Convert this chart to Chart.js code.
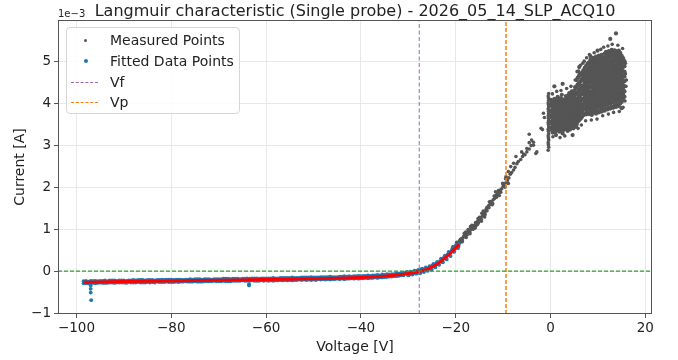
<!DOCTYPE html>
<html>
<head>
<meta charset="utf-8">
<script src="https://cdn.jsdelivr.net/npm/chart.js@4.4.1/dist/chart.umd.min.js"></script>
<style>
    html, body { margin: 0; padding: 0; background: #fff; }
    #wrap { position: relative; width: 678px; height: 360px; font-family: 'DejaVu Sans', sans-serif; color: #222; }
    #title { position: absolute; left: 0; top: 0; width: 710px; text-align: center; font-size: 16px; line-height: 21px; white-space: nowrap; }
    #offset { position: absolute; left: 58px; top: 8px; font-size: 10px; line-height: 12px; }
    #legend { position: absolute; left: 66px; top: 27px; width: 174px; height: 87px; box-sizing: border-box;
              border: 1px solid #d6d6d6; border-radius: 4px; background: rgba(255,255,255,0.85); font-size: 14px; }
    .row { position: absolute; left: 0; height: 20px; line-height: 20px; width: 100%; }
    .row span.txt { position: absolute; left: 43px; top: 0; }
    .dot { position: absolute; border-radius: 50%; }
    .dash { position: absolute; left: 4px; width: 27px; height: 0; }
</style>
</head>
<body>
<div id="wrap">
    <canvas id="chart" width="678" height="360"></canvas>
    <div id="title">Langmuir characteristic (Single probe) - 2026_05_14_SLP_ACQ10</div>
    <div id="offset">1e−3</div>
    <div id="legend">
        <div class="row" style="top:2px"><div class="dot" style="left:17px;top:8.5px;width:3px;height:3px;background:#555"></div><span class="txt">Measured Points</span></div>
        <div class="row" style="top:23px"><div class="dot" style="left:16.5px;top:8px;width:4px;height:4px;background:#1f77b4"></div><span class="txt">Fitted Data Points</span></div>
        <div class="row" style="top:44px"><div class="dash" style="top:10px;border-top:1.2px dashed #9467bd"></div><span class="txt">Vf</span></div>
        <div class="row" style="top:64px"><div class="dash" style="top:10px;border-top:1.5px dashed #ff7f0e"></div><span class="txt">Vp</span></div>
    </div>
</div>
<script>
// axis ranges and ticks (current in units of 1e-3 A)
const xMin = -103.9, xMax = 21.4;
const yMin = -1.02, yMax = 5.98;
const xTicks = [-100, -80, -60, -40, -20, 0, 20];
const yTicks = [-1, 0, 1, 2, 3, 4, 5];

// floating and plasma potential [V]
const Vf = -27.7;
const Vp = -9.4;

// exponential fit curve
const fitV = [-98.5, -95, -90, -85, -80, -75, -70, -65, -60, -55, -50, -45, -40, -38, -36, -34, -33, -32, -31, -30, -29, -28, -27.5, -27, -26, -25, -24, -23, -22, -21, -20, -19.3];
const fitI = [-0.263, -0.257, -0.248, -0.240, -0.232, -0.224, -0.216, -0.208, -0.200, -0.190, -0.180, -0.166, -0.148, -0.138, -0.125, -0.108, -0.098, -0.085, -0.071, -0.056, -0.038, -0.015, 0.0, 0.015, 0.05, 0.10, 0.165, 0.245, 0.34, 0.445, 0.56, 0.64];

// points used for the fit, first sweep
const fittedSweepA = [
    [-98.5,-0.24],[-98,-0.29],[-97.5,-0.25],[-97,-0.28],[-96.5,-0.23],[-96,-0.29],[-95.5,-0.24],[-95,-0.27],[-94.5,-0.23],[-94,-0.28],
    [-93.5,-0.24],[-93,-0.27],[-92.5,-0.22],[-92,-0.28],[-91.5,-0.23],[-91,-0.27],[-90.5,-0.22],[-90,-0.27],[-89.5,-0.23],[-89,-0.26],
    [-88.5,-0.22],[-88,-0.27],[-87.5,-0.22],[-87,-0.26],[-86.5,-0.21],[-86,-0.27],[-85.5,-0.22],[-85,-0.26],[-84.5,-0.21],[-84,-0.26],
    [-83.5,-0.22],[-83,-0.25],[-82.5,-0.21],[-82,-0.26],[-81.5,-0.21],[-81,-0.25],[-80.5,-0.20],[-80,-0.26],[-79.5,-0.21],[-79,-0.25],
    [-78.5,-0.20],[-78,-0.25],[-77.5,-0.21],[-77,-0.24],[-76.5,-0.20],[-76,-0.25],[-75.5,-0.20],[-75,-0.24],[-74.5,-0.19],[-74,-0.25],
    [-73.5,-0.20],[-73,-0.24],[-72.5,-0.19],[-72,-0.24],[-71.5,-0.20],[-71,-0.23],[-70.5,-0.19],[-70,-0.24],[-69.5,-0.19],[-69,-0.23],
    [-68.5,-0.18],[-68,-0.24],[-67.5,-0.19],[-67,-0.23],[-66.5,-0.18],[-66,-0.23],[-65.5,-0.19],[-65,-0.22],[-64.5,-0.18],[-64,-0.23],
    [-63.5,-0.18],[-63,-0.22],[-62.5,-0.17],[-62,-0.23],[-61.5,-0.18],[-61,-0.22],[-60.5,-0.17],[-60,-0.22],[-59.5,-0.17],[-59,-0.22],
    [-58.5,-0.16],[-58,-0.22],[-57.5,-0.17],[-57,-0.21],[-56.5,-0.16],[-56,-0.21],[-55.5,-0.16],[-55,-0.21],[-54.5,-0.15],[-54,-0.21],
    [-53.5,-0.16],[-53,-0.20],[-52.5,-0.15],[-52,-0.20],[-51.5,-0.15],[-51,-0.20],[-50.5,-0.14],[-50,-0.20],[-49.5,-0.15],[-49,-0.19],
    [-48.5,-0.14],[-48,-0.19],[-47.5,-0.14],[-47,-0.19],[-46.5,-0.13],[-46,-0.19],[-45.5,-0.14],[-45,-0.18],[-44.5,-0.13],[-44,-0.18],
    [-43.5,-0.12],[-43,-0.18],[-42.5,-0.12],[-42,-0.17],[-41.5,-0.12],[-41,-0.17],[-40.5,-0.11],[-40,-0.17],[-39.5,-0.11],[-39,-0.16],
    [-38.5,-0.10],[-38,-0.16],[-37.5,-0.10],[-37,-0.15],[-36.5,-0.09],[-36,-0.15],[-35.5,-0.08],[-35,-0.14],[-34.5,-0.07],[-34,-0.13],
    [-33.5,-0.07],[-33,-0.12],[-32.5,-0.05],[-32,-0.11],[-31.5,-0.04],[-31,-0.10],
    [-30.5,-0.03],[-30.1,-0.09],[-29.7,-0.03],[-29.3,-0.07],[-28.9,-0.01],[-28.5,-0.05],[-28.1,0.01],[-27.7,-0.04],
    [-27.3,0.04],[-26.9,0.00],[-26.5,0.06],[-26.1,0.02],[-25.7,0.08],[-25.3,0.06],[-24.9,0.14],[-24.5,0.11],
    [-24.1,0.19],[-23.7,0.16],[-23.3,0.24],[-22.9,0.22],[-22.5,0.32],[-22.1,0.31],[-21.7,0.40],[-21.3,0.39],
    [-20.9,0.48],[-20.5,0.47],[-20.1,0.58],[-19.7,0.56],[-19.3,0.65],
    [-97,-0.34],[-97,-0.42],[-97,-0.51],[-96.9,-0.69],[-63.6,-0.31],[-63.6,-0.34]
];

// points used for the fit, second sweep
const fittedSweepB = [
    [-98.5,-0.29],[-98,-0.23],[-97.5,-0.29],[-97,-0.23],[-96.5,-0.28],[-96,-0.23],[-95.5,-0.28],[-95,-0.23],[-94.5,-0.28],[-94,-0.22],
    [-93.5,-0.28],[-93,-0.22],[-92.5,-0.27],[-92,-0.22],[-91.5,-0.27],[-91,-0.22],[-90.5,-0.27],[-90,-0.22],[-89.5,-0.28],[-89,-0.22],
    [-88.5,-0.27],[-88,-0.21],[-87.5,-0.27],[-87,-0.21],[-86.5,-0.27],[-86,-0.21],[-85.5,-0.27],[-85,-0.21],[-84.5,-0.27],[-84,-0.21],
    [-83.5,-0.27],[-83,-0.21],[-82.5,-0.26],[-82,-0.20],[-81.5,-0.26],[-81,-0.20],[-80.5,-0.26],[-80,-0.20],[-79.5,-0.26],[-79,-0.20],
    [-78.5,-0.26],[-78,-0.20],[-77.5,-0.25],[-77,-0.20],[-76.5,-0.25],[-76,-0.19],[-75.5,-0.25],[-75,-0.19],[-74.5,-0.25],[-74,-0.19],
    [-73.5,-0.25],[-73,-0.19],[-72.5,-0.24],[-72,-0.19],[-71.5,-0.24],[-71,-0.19],[-70.5,-0.24],[-70,-0.19],[-69.5,-0.24],[-69,-0.18],
    [-68.5,-0.24],[-68,-0.18],[-67.5,-0.24],[-67,-0.18],[-66.5,-0.23],[-66,-0.18],[-65.5,-0.23],[-65,-0.18],[-64.5,-0.23],[-64,-0.17],
    [-63.5,-0.23],[-63,-0.17],[-62.5,-0.23],[-62,-0.17],[-61.5,-0.23],[-61,-0.17],[-60.5,-0.23],[-60,-0.17],[-59.5,-0.23],[-59,-0.17],
    [-58.5,-0.23],[-58,-0.17],[-57.5,-0.22],[-57,-0.16],[-56.5,-0.22],[-56,-0.16],[-55.5,-0.22],[-55,-0.16],[-54.5,-0.22],[-54,-0.16],
    [-53.5,-0.21],[-53,-0.16],[-52.5,-0.21],[-52,-0.15],[-51.5,-0.21],[-51,-0.15],[-50.5,-0.21],[-50,-0.15],[-49.5,-0.21],[-49,-0.15],
    [-48.5,-0.20],[-48,-0.14],[-47.5,-0.20],[-47,-0.14],[-46.5,-0.20],[-46,-0.14],[-45.5,-0.19],[-45,-0.14],[-44.5,-0.19],[-44,-0.13],
    [-43.5,-0.19],[-43,-0.13],[-42.5,-0.18],[-42,-0.13],[-41.5,-0.18],[-41,-0.12],[-40.5,-0.18],[-40,-0.12],[-39.5,-0.17],[-39,-0.11],
    [-38.5,-0.17],[-38,-0.11],[-37.5,-0.16],[-37,-0.10],[-36.5,-0.16],[-36,-0.10],[-35.5,-0.15],[-35,-0.09],[-34.5,-0.14],[-34,-0.08],
    [-33.5,-0.13],[-33,-0.07],[-32.5,-0.12],[-32,-0.06],[-31.5,-0.10],[-31,-0.04],
    [-30.3,-0.02],[-29.9,-0.10],[-29.5,-0.01],[-29.1,-0.08],[-28.7,0.01],[-28.3,-0.06],[-27.9,0.03],[-27.5,-0.05],
    [-27.1,0.06],[-26.7,-0.02],[-26.3,0.09],[-25.9,0.01],[-25.5,0.12],[-25.1,0.04],[-24.7,0.17],[-24.3,0.09],
    [-23.9,0.22],[-23.5,0.15],[-23.1,0.30],[-22.7,0.21],[-22.3,0.37],[-21.9,0.28],[-21.5,0.46],[-21.1,0.36],
    [-20.7,0.54],[-20.3,0.46],[-19.9,0.63],[-19.5,0.55]
];

// measured points above the fit range
const measuredRise = [
    [-21.2,0.44],[-20.8,0.50],[-20.4,0.55],[-20.1,0.60],[-19.8,0.63],[-19.6,0.68],[-19.4,0.62],[-19.2,0.72],[-19.0,0.69],[-18.8,0.77],
    [-18.6,0.74],[-18.4,0.81],[-18.2,0.85],[-18.0,0.82],[-17.8,0.89],[-17.6,0.86],[-17.4,0.93],[-17.2,0.96],[-17.0,0.93],[-16.8,1.00],
    [-16.6,1.03],[-16.4,1.00],[-16.2,1.07],[-16.0,1.10],[-15.8,1.07],[-15.6,1.14],[-15.4,1.18],[-15.2,1.15],[-15.0,1.22],[-14.8,1.26],
    [-14.6,1.23],[-14.4,1.31],[-14.2,1.37],[-14.0,1.33],[-13.8,1.41],[-13.6,1.47],[-13.4,1.44],[-13.2,1.52],[-13.0,1.57],[-12.7,1.59],
    [-12.4,1.64],[-12.1,1.70],[-11.8,1.73],[-11.5,1.81],[-11.2,1.83],[-10.9,1.88],[-10.6,1.93],[-10.3,1.96],[-10.0,2.02],[-9.7,2.05],
    [-9.4,2.11],[-9.1,2.16],[-8.8,2.22],[-8.5,2.31],[-8.2,2.35],[-7.8,2.41],[-7.5,2.47],[-7.1,2.56],[-6.8,2.61],[-6.3,2.66],
    [-5.9,2.73],[-5.4,2.77],[-5.0,2.84],[-4.5,2.91],[-4.1,2.99],[-3.6,3.07],
    [-18.9,0.71],[-17.9,0.93],[-16.9,1.06],[-15.9,1.03],[-15.3,1.25],[-14.5,1.38],[-13.9,1.29],[-12.9,1.65],[-12.2,1.61],[-11.6,1.89],
    [-10.8,1.80],[-10.1,2.09],[-9.5,2.20],[-8.9,2.09],[-8.4,2.49],[-7.8,2.57],[-7.3,2.73],[-6.1,2.84],[-5.7,2.79],[-5.0,2.92],
    [-4.5,3.06],[-4.0,3.12],[-4.5,3.26],[-3.6,3.00],[-3.1,2.80],[-2.9,2.84],[-2.0,3.40],[-1.7,3.37],[-1.3,3.66],[-1.5,3.76],
    [-9.4,2.25],[-8.9,2.37],
    [-20.6,0.58],[-20.2,0.52],[-19.8,0.69],[-19.4,0.58],[-19.0,0.76],[-18.6,0.70],[-18.2,0.90],[-17.8,0.80],[-17.4,0.99],[-17.0,0.89],
    [-16.6,1.09],[-16.2,1.01],[-15.8,1.16],[-15.4,1.11],[-15.0,1.28],[-14.6,1.19],[-14.2,1.43],[-13.8,1.35],[-13.4,1.52],[-13.0,1.51],
    [-12.6,1.66],[-12.3,1.58],[-11.9,1.79],[-11.4,1.76],[-11.0,1.92],[-10.5,1.88],[-9.9,2.07],[-9.6,2.00]
];

// vertical streak near 0 V
const measuredBar = [
    [-0.5,2.88],[-0.4,2.95],[-0.45,3.01],[-0.5,3.06],[-0.4,3.12],[-0.45,3.17],[-0.5,3.22],[-0.4,3.27],[-0.45,3.33],[-0.5,3.38],
    [-0.4,3.43],[-0.45,3.49],[-0.5,3.54],[-0.4,3.59],[-0.45,3.64],[-0.5,3.70],[-0.4,3.75],[-0.45,3.80],[-0.5,3.86],[-0.4,3.91],
    [-0.45,3.96],[-0.5,4.01],[-0.4,4.07],[-0.45,4.12],[-0.5,4.17],[-0.4,4.23]
];

// electron saturation cloud: [voltage, [currents...]]
const cloudColumns = [
    [0.1, [3.42,3.56,3.70,3.83,3.97,4.08]],
    [0.28, [3.36,3.51,3.66,3.79,3.93,4.04]],
    [0.45, [3.30,3.48,3.62,3.76,3.90,4.03]],
    [0.62, [3.42,3.57,3.71,3.84,3.99]],
    [0.8, [3.38,3.52,3.66,3.80,3.94,4.10,4.40]],
    [0.98, [3.31,3.47,3.61,3.75,3.90,4.05]],
    [1.15, [3.24,3.44,3.58,3.72,3.86,4.00]],
    [1.32, [3.37,3.53,3.69,3.81,3.95,4.09]],
    [1.5, [3.36,3.50,3.64,3.78,3.92,4.06,4.15]],
    [1.68, [3.41,3.55,3.69,3.83,3.97,4.10]],
    [1.85, [3.32,3.46,3.60,3.74,3.88,4.02]],
    [2.02, [3.35,3.49,3.63,3.79,3.93,4.05]],
    [2.2, [3.40,3.54,3.68,3.82,3.96,4.12]],
    [2.38, [3.44,3.58,3.73,3.87,4.01,4.20]],
    [2.55, [3.28,3.48,3.62,3.76,3.90,4.05,4.46]],
    [2.72, [3.36,3.53,3.69,3.85,4.00]],
    [2.9, [3.38,3.52,3.66,3.80,3.94,4.09]],
    [3.08, [3.45,3.61,3.76,3.91,4.07]],
    [3.25, [3.44,3.58,3.72,3.86,4.00,4.17]],
    [3.42, [3.38,3.53,3.67,3.83,3.97,4.11]],
    [3.6, [3.34,3.50,3.64,3.78,3.92,4.06]],
    [3.78, [3.46,3.60,3.75,3.89,4.03,4.19]],
    [3.95, [3.42,3.56,3.70,3.84,3.98,4.14,4.24]],
    [4.12, [3.37,3.54,3.66,3.81,3.95,4.11]],
    [4.3, [3.47,3.61,3.75,3.89,4.03,4.19]],
    [4.48, [3.44,3.57,3.71,3.85,4.00,4.14,4.28]],
    [4.65, [3.24,3.52,3.66,3.80,3.94,4.08,4.26]],
    [4.82, [3.40,3.56,3.75,3.91,4.05,4.22]],
    [5.0, [3.46,3.58,3.72,3.86,4.00,4.14,4.30]],
    [5.18, [3.52,3.67,3.81,3.95,4.09,4.25,4.38]],
    [5.35, [3.44,3.62,3.76,3.90,4.04,4.20,4.36]],
    [5.52, [3.50,3.63,3.79,3.93,4.07,4.23,4.40,4.55]],
    [5.7, [3.56,3.68,3.82,3.96,4.10,4.26,4.44,4.60]],
    [5.88, [3.58,3.71,3.85,3.99,4.14,4.29,4.45,4.62,4.76]],
    [6.05, [3.60,3.74,3.88,4.02,4.16,4.32,4.48,4.66,4.86]],
    [6.22, [3.62,3.76,3.90,4.04,4.19,4.35,4.51,4.69]],
    [6.4, [3.64,3.78,3.92,4.06,4.20,4.36,4.52,4.68]],
    [6.52, [3.66,3.80,3.94,4.09,4.24,4.40,4.56,4.70]],
    [6.65, [3.68,3.82,3.96,4.10,4.26,4.42,4.58,4.72]],
    [6.9, [3.71,3.86,3.98,4.09,4.21,4.30,4.42,4.55,4.63,4.78]],
    [7.2, [3.76,3.90,4.03,4.14,4.25,4.36,4.47,4.59,4.70,4.84]],
    [7.5, [3.73,3.84,3.97,4.08,4.19,4.31,4.41,4.52,4.64,4.75,4.89]],
    [7.8, [3.79,3.91,4.02,4.13,4.24,4.35,4.46,4.58,4.69,4.80,4.94]],
    [8.1, [3.74,3.87,3.99,4.10,4.20,4.29,4.40,4.51,4.62,4.73,4.84,4.97]],
    [8.4, [3.80,3.93,4.05,4.15,4.26,4.37,4.48,4.57,4.68,4.79,4.90,5.03,5.12]],
    [8.7, [3.72,3.85,3.96,4.07,4.18,4.28,4.39,4.50,4.61,4.72,4.83,4.94]],
    [9.0, [3.77,3.90,4.02,4.13,4.23,4.34,4.45,4.56,4.66,4.77,4.88,5.00,5.08]],
    [9.3, [3.83,3.95,4.06,4.17,4.28,4.39,4.49,4.60,4.71,4.82,4.93,5.04]],
    [9.6, [3.75,3.88,4.00,4.11,4.22,4.32,4.43,4.54,4.65,4.76,4.87,4.98,5.11]],
    [9.9, [3.81,3.94,4.05,4.16,4.26,4.37,4.48,4.59,4.70,4.81,4.92,5.05,5.25]],
    [10.2, [3.78,3.91,4.02,4.12,4.23,4.34,4.44,4.55,4.66,4.77,4.88,4.99,5.13]],
    [10.5, [3.84,3.97,4.08,4.19,4.29,4.40,4.51,4.62,4.72,4.83,4.94,5.07]],
    [10.8, [3.80,3.92,4.03,4.14,4.25,4.36,4.47,4.57,4.68,4.79,4.90,5.01,5.15]],
    [11.1, [3.86,3.99,4.10,4.21,4.31,4.42,4.53,4.64,4.74,4.85,4.96,5.09]],
    [11.4, [3.82,3.95,4.06,4.17,4.27,4.38,4.49,4.59,4.70,4.81,4.92,5.03,5.18]],
    [11.7, [3.88,4.00,4.11,4.22,4.33,4.44,4.55,4.65,4.76,4.87,4.98,5.11,5.22]],
    [12.0, [3.85,3.97,4.08,4.19,4.30,4.40,4.51,4.62,4.73,4.84,4.94,5.06,5.17]],
    [12.3, [3.90,4.03,4.14,4.25,4.35,4.46,4.57,4.68,4.78,4.89,5.00,5.12,5.24]],
    [12.6, [3.87,3.99,4.10,4.21,4.32,4.43,4.53,4.64,4.75,4.86,4.97,5.08,5.20,5.53]],
    [12.9, [3.92,4.05,4.16,4.27,4.37,4.48,4.59,4.70,4.80,4.91,5.02,5.14,5.27]],
    [13.2, [3.89,4.01,4.12,4.23,4.34,4.45,4.55,4.66,4.77,4.88,4.99,5.10,5.22]],
    [13.5, [3.94,4.07,4.18,4.29,4.39,4.50,4.61,4.72,4.82,4.93,5.04,5.16,5.26]],
    [13.8, [3.91,4.03,4.14,4.25,4.36,4.47,4.57,4.68,4.79,4.90,5.01,5.12,5.24,5.66]],
    [14.1, [3.96,4.09,4.20,4.31,4.41,4.52,4.63,4.74,4.84,4.95,5.06,5.18]],
    [14.4, [3.93,4.05,4.16,4.27,4.38,4.49,4.59,4.70,4.81,4.92,5.03,5.14,5.25]],
    [14.7, [3.99,4.12,4.23,4.34,4.44,4.55,4.66,4.77,4.87,4.98,5.09,5.20]],
    [15.0, [3.88,4.03,4.15,4.26,4.37,4.48,4.59,4.69,4.80,4.91,5.02,5.13]],
    [15.3, [4.08,4.21,4.32,4.43,4.53,4.64,4.75,4.86,4.96,5.07]],
    [15.6, [4.15,4.28,4.40,4.52,4.63,4.75,4.88,5.00]]
];

// scattered points around the edge of the cloud
const cloudStrays = [
    [7.1,5.00],[7.6,5.08],[8.2,5.16],[9.2,5.20],[10.6,5.28],[11.2,5.33],[12.1,5.36],[13.0,5.40],[14.2,5.38],[15.2,5.30],
    [15.8,4.70],[15.9,4.40],[15.8,4.95],[16.0,4.55],[15.7,4.05],[15.3,3.90],[14.5,3.80],[13.3,3.78],[12.2,3.74],[11.0,3.70],
    [9.8,3.62],[8.6,3.60],[7.4,3.58],[6.8,4.95],[6.3,4.90],[5.6,4.75],[5.2,4.55],[4.3,4.40],[3.4,4.35],[2.2,4.30],
    [1.3,4.28],[0.4,4.22],[0.5,3.20],[2.0,3.18],[3.0,3.22],[5.8,3.40],[6.5,3.48]
];

const FONT = "'DejaVu Sans', sans-serif";
const toXY = arr => arr.map(p => ({ x: p[0], y: p[1] }));
const minus = v => (v < 0 ? '\u2212' + Math.abs(v) : String(v));

const measuredCloud = [];
cloudColumns.forEach(([v, currents]) => {
    currents.forEach(i => measuredCloud.push([v, i]));
});

// full box of spines like matplotlib
const framePlugin = {
    id: 'frame',
    afterDatasetsDraw(chart) {
        const { ctx, chartArea: a } = chart;
        ctx.save();
        ctx.strokeStyle = '#555';
        ctx.lineWidth = 1;
        ctx.strokeRect(a.left + 0.5, a.top + 0.5, a.right - a.left - 1, a.bottom - a.top - 1);
        ctx.restore();
    }
};

const ctx = document.getElementById('chart');

// datasets listed top-most first (Chart.js paints index 0 last)
new Chart(ctx, {
    type: 'scatter',
    data: {
        datasets: [
            {
                label: 'zero',
                data: [{ x: xMin, y: 0 }, { x: xMax, y: 0 }],
                showLine: true,
                borderColor: '#2ca02c',
                borderWidth: 1.3,
                borderDash: [4, 2],
                pointRadius: 0
            },
            {
                label: 'Vp',
                data: [{ x: Vp, y: yMin }, { x: Vp, y: yMax }],
                showLine: true,
                borderColor: '#ff7f0e',
                borderWidth: 1.5,
                borderDash: [4, 2],
                pointRadius: 0
            },
            {
                label: 'Vf',
                data: [{ x: Vf, y: yMin }, { x: Vf, y: yMax }],
                showLine: true,
                borderColor: '#9467bd',
                borderWidth: 1,
                borderDash: [4, 2.5],
                pointRadius: 0
            },
            {
                label: 'Fit',
                data: fitV.map((v, i) => ({ x: v, y: fitI[i] })),
                showLine: true,
                borderColor: '#ff0000',
                borderWidth: 3,
                pointRadius: 0,
                cubicInterpolationMode: 'monotone'
            },
            {
                label: 'Fitted Data Points',
                data: toXY([...fittedSweepA, ...fittedSweepB]),
                backgroundColor: '#1f77b4',
                pointRadius: 1.9,
                pointBorderWidth: 0
            },
            {
                label: 'Measured Points (saturation)',
                data: toXY(measuredCloud),
                backgroundColor: '#555555',
                pointRadius: 2.1,
                pointBorderWidth: 0
            },
            {
                label: 'Measured Points',
                data: toXY([...measuredRise, ...measuredBar, ...cloudStrays]),
                backgroundColor: '#555555',
                pointRadius: 1.8,
                pointBorderWidth: 0
            }
        ]
    },
    options: {
        responsive: false,
        animation: false,
        devicePixelRatio: 1,
        layout: { padding: { top: 20, right: 26, left: 0, bottom: 0 } },
        plugins: {
            legend: { display: false },
            tooltip: { enabled: false }
        },
        scales: {
            x: {
                type: 'linear',
                min: xMin,
                max: xMax,
                afterFit: s => { s.height = 46; },
                afterBuildTicks: s => { s.ticks = xTicks.map(v => ({ value: v })); },
                ticks: { font: { family: FONT, size: 13.5 }, color: '#222', padding: 2, maxRotation: 0, callback: minus },
                grid: { color: '#e8e8e8', tickColor: '#555', tickLength: 4 },
                border: { display: false },
                title: { display: true, text: 'Voltage [V]', font: { family: FONT, size: 14 }, color: '#222', padding: { top: 0, bottom: 4 } }
            },
            y: {
                type: 'linear',
                min: yMin,
                max: yMax,
                afterFit: s => { s.width = 58; },
                afterBuildTicks: s => { s.ticks = yTicks.map(v => ({ value: v })); },
                ticks: { font: { family: FONT, size: 13.5 }, color: '#222', padding: 3, callback: minus },
                grid: { color: '#e8e8e8', tickColor: '#555', tickLength: 4 },
                border: { display: false },
                title: { display: true, text: 'Current [A]', font: { family: FONT, size: 14 }, color: '#222', padding: { top: 12, bottom: 0 } }
            }
        }
    },
    plugins: [framePlugin]
});
</script>
</body>
</html>
